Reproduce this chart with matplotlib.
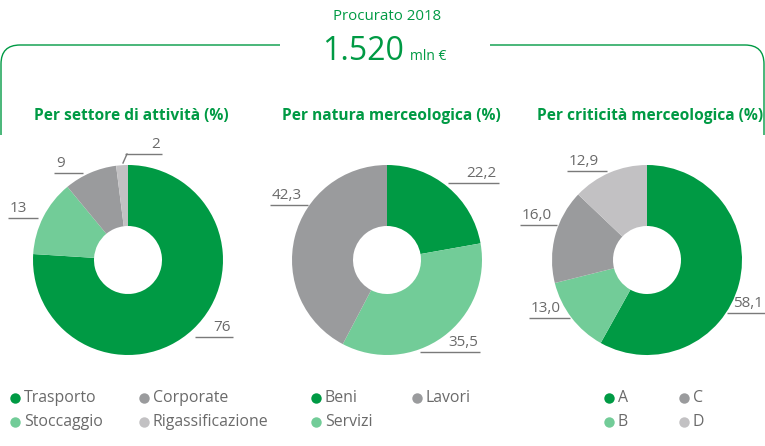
import matplotlib
matplotlib.use('Agg')
import matplotlib.pyplot as plt
from matplotlib.path import Path
from matplotlib.patches import PathPatch

# ---------------- data ----------------
sector_labels = ['Trasporto', 'Stoccaggio', 'Corporate', 'Rigassificazione']
sector_values = [76, 13, 9, 2]
nature_labels = ['Beni', 'Servizi', 'Lavori']
nature_values = [22.2, 35.5, 42.3]
crit_labels = ['A', 'B', 'C', 'D']
crit_values = [58.1, 13.0, 16.0, 12.9]

titles = ['Per settore di attività (%)', 'Per natura merceologica (%)',
          'Per criticità merceologica (%)']
header_small = 'Procurato 2018'
header_value = '1.520'
header_unit = 'mln €'

# ---------------- style ----------------
GREEN = '#009A44'
LGREEN = '#72CC98'
GRAY = '#9A9B9D'
LGRAY = '#C2C1C3'
TXT = '#6A6A6A'
LINE = '#7A7A7A'
colors4 = [GREEN, LGREEN, GRAY, LGRAY]
plt.rcParams['font.family'] = ['Open Sans', 'DejaVu Sans']

W, H = 765, 446
fig = plt.figure(figsize=(W / 100, H / 100), dpi=100)
ax = fig.add_axes([0, 0, 1, 1])


def Y(y):
    return H - y


charts = [
    dict(values=sector_values, labels=sector_labels, cx=128, fmt='int',
         # (line_x0, line_x1, line_y, align)
         lab=[(195, 233, 337, 'r'), (8, 38, 218, 'l'), (54, 83, 173, 'l'), (125, 162, 154, 'r')],
         leg_x=[15, 144], title_x=131),
    dict(values=nature_values, labels=nature_labels, cx=387, fmt='dec',
         lab=[(448, 499, 183, 'r'), (420, 480, 352, 'r'), (270, 308, 205, 'l')],
         leg_x=[316, 417], title_x=391),
    dict(values=crit_values, labels=crit_labels, cx=647, fmt='dec',
         lab=[(727, 765, 313, 'r'), (529, 570, 318, 'l'), (520, 557, 225, 'l'), (567, 607, 171, 'l')],
         leg_x=[609, 684], title_x=650),
]

CY = 260
R_OUT = 95
R_IN = 34

for k, ch in enumerate(charts):
    vals = ch['values']
    ax.pie(vals, colors=colors4[:len(vals)], startangle=90, counterclock=False,
           radius=R_OUT, center=(ch['cx'], Y(CY)),
           wedgeprops=dict(width=R_OUT - R_IN, linewidth=0))
    # value labels with underline leaders
    for v, (x0, x1, ly, al) in zip(vals, ch['lab']):
        s = f'{v:d}' if ch['fmt'] == 'int' else f'{v:.1f}'.replace('.', ',')
        ax.plot([x0, x1], [Y(ly), Y(ly)], color=LINE, lw=1, solid_capstyle='butt')
        if al == 'r':
            ax.text(x1 - 2, Y(ly - 2), s, ha='right', va='bottom', fontsize=11, color=TXT)
        else:
            ax.text(x0 + 2, Y(ly - 2), s, ha='left', va='bottom', fontsize=11, color=TXT)
    # title
    ax.text(ch['title_x'], Y(116), titles[k], ha='center', va='center',
            fontsize=11.2, fontweight='bold', color=GREEN)
    # legend
    for i, lbl in enumerate(ch['labels']):
        col, row = i // 2, i % 2
        lx = ch['leg_x'][col]
        ly = 398 + row * 24
        ax.plot([lx], [Y(ly)], marker='o', ms=7.5, color=colors4[i], mec='none')
        ax.text(lx + 9, Y(ly), lbl, ha='left', va='center', fontsize=11.4, color=TXT)

# small connector for the tiny slice of the first chart
ax.plot([127, 123], [Y(154), Y(163)], color=LINE, lw=1)

# header
ax.text(387, Y(17), header_small, ha='center', va='center', fontsize=10.8, color=GREEN)
ax.text(404, Y(52), header_value, ha='right', va='center', fontsize=23, color=GREEN)
ax.text(410, Y(57), header_unit, ha='left', va='center', fontsize=10, color=GREEN)

# bracket lines
r = 19
left = Path([(280, Y(45)), (1 + r, Y(45)), (1, Y(45)), (1, Y(45 + r)), (1, Y(135))],
            [Path.MOVETO, Path.LINETO, Path.CURVE3, Path.CURVE3, Path.LINETO])
right = Path([(490, Y(45)), (764 - r, Y(45)), (764, Y(45)), (764, Y(45 + r)), (764, Y(135))],
             [Path.MOVETO, Path.LINETO, Path.CURVE3, Path.CURVE3, Path.LINETO])
for p in (left, right):
    ax.add_patch(PathPatch(p, fill=False, edgecolor=GREEN, lw=1))

ax.set_xlim(0, W)
ax.set_ylim(0, H)
ax.set_aspect('auto')
ax.axis('off')
fig.savefig('out.png', dpi=100)
